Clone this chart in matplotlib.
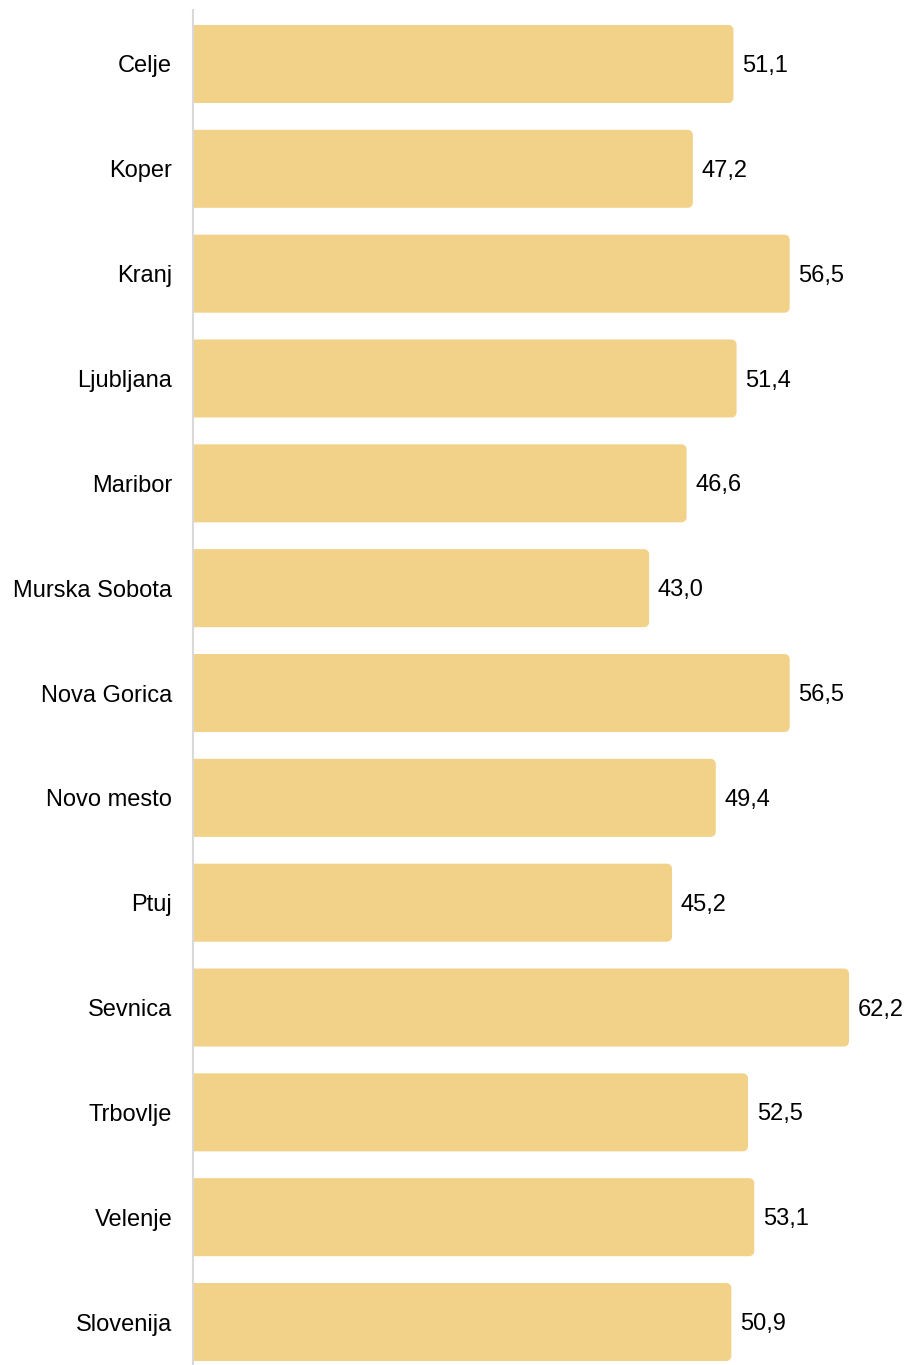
import matplotlib

matplotlib.use("Agg")
import matplotlib.pyplot as plt
from matplotlib.patches import PathPatch
from matplotlib.path import Path

plt.rcParams["font.family"] = ["Liberation Sans", "DejaVu Sans"]

regions = [
    "Celje", "Koper", "Kranj", "Ljubljana", "Maribor", "Murska Sobota",
    "Nova Gorica", "Novo mesto", "Ptuj", "Sevnica", "Trbovlje", "Velenje",
    "Slovenija",
]
values = [51.1, 47.2, 56.5, 51.4, 46.6, 43.0, 56.5, 49.4, 45.2, 62.2, 52.5, 53.1, 50.9]

bar_color = "#F2D188"
W, H = 909, 1365
fig = plt.figure(figsize=(W / 100, H / 100), dpi=100)
ax = fig.add_axes([193 / W, 0, 1 - 193 / W, (H - 10) / H])

# scale: 10.41 px per unit, zero a few px right of the axis line
px_per = 10.41
x0 = -(201.5 - 193) / px_per
x_max = x0 + (W - 193) / px_per

pos = list(range(len(regions)))
bars = ax.barh(pos, [v - x0 for v in values], left=x0, height=0.744, color=bar_color)

ax.set_xlim(x0, x_max)
ax.set_ylim(12.41, -0.515)


def right_rounded(x, y, w, h, rx, ry):
    # square left side, rounded right corners
    k = 0.5523
    verts = [
        (x, y), (x + w - rx, y),
        (x + w - rx + k * rx, y), (x + w, y + ry - k * ry), (x + w, y + ry),
        (x + w, y + h - ry),
        (x + w, y + h - ry + k * ry), (x + w - rx + k * rx, y + h), (x + w - rx, y + h),
        (x, y + h), (x, y),
    ]
    codes = [Path.MOVETO, Path.LINETO,
             Path.CURVE4, Path.CURVE4, Path.CURVE4,
             Path.LINETO,
             Path.CURVE4, Path.CURVE4, Path.CURVE4,
             Path.LINETO, Path.CLOSEPOLY]
    return Path(verts, codes)


# corner radius ~5 px
px_y = (H - 10) / (12.41 + 0.515)
rx = 5 / px_per
ry = 5 / px_y
for bar in bars:
    bar.set_visible(False)
    path = right_rounded(bar.get_x(), bar.get_y(), bar.get_width(), bar.get_height(), rx, ry)
    ax.add_patch(PathPatch(path, fc=bar_color, ec="none"))

for p, v in zip(pos, values):
    ax.annotate(f"{v:.1f}".replace(".", ","), (v, p), xytext=(6.2, -1.5),
                textcoords="offset points", va="center", ha="left", fontsize=17)

ax.set_yticks(pos)
ax.set_yticklabels(regions, fontsize=17)
ax.tick_params(axis="y", length=0, pad=15)
ax.set_xticks([])
for side in ["top", "right", "bottom"]:
    ax.spines[side].set_visible(False)
ax.spines["left"].set_color("#d9d9d9")
ax.spines["left"].set_linewidth(1.5)
ax.spines["left"].set_zorder(5)

fig.savefig("out.png", dpi=100)
